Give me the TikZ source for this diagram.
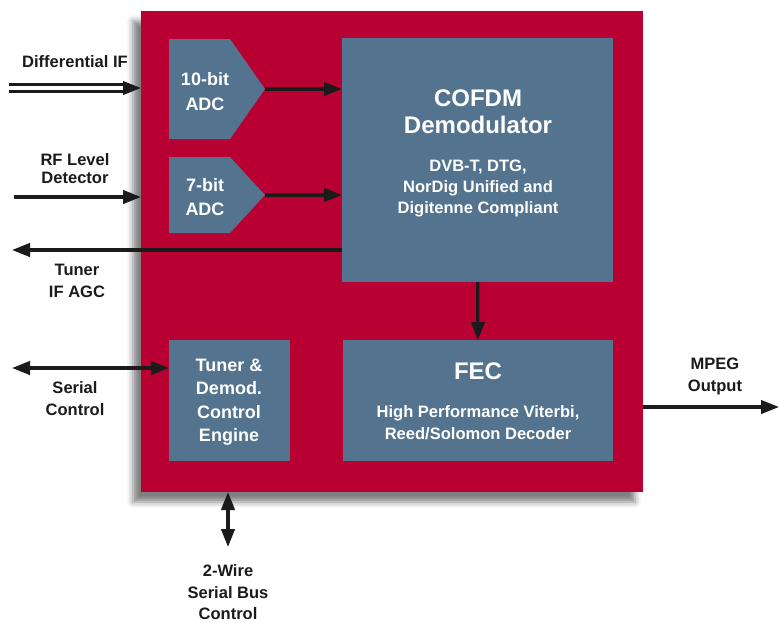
\documentclass[tikz,border=0pt]{standalone}
\usepackage{fontspec}
\setmainfont{Liberation Sans}
\usetikzlibrary{arrows.meta,shadows.blur}
\definecolor{chipred}{RGB}{184,0,50}
\definecolor{blockblue}{RGB}{84,115,143}
\definecolor{ink}{RGB}{28,26,27}
\tikzset{
 blk/.style={fill=blockblue,inner sep=0pt,outer sep=0pt},
 sig/.style={draw=ink,line width=2.4pt},
 lbl/.style={font=\bfseries\fontsize{12.4}{#1}\selectfont,align=center,text=ink,inner sep=0pt},
 wlbl/.style={font=\bfseries\fontsize{12.4}{#1}\selectfont,align=center,text=white,inner sep=0pt},
}
\begin{document}
\begin{tikzpicture}[x=0.75pt,y=-0.75pt,>={Triangle[length=13.5pt,width=10pt]}]
 \useasboundingbox (0,0) rectangle (779,622);
 \node[fill=chipred,inner sep=0pt,outer sep=0pt,minimum width=376.5pt,minimum height=360.75pt,
   blur shadow={shadow xshift=-6pt,shadow yshift=-7.5pt,shadow blur radius=4.5pt,shadow opacity=50}] (chip) at (392,251.5) {};
 \node[blk,minimum width=203.25pt,minimum height=183pt] (cofdm) at (477.5,160) {};
 \node[blk,minimum width=202.5pt,minimum height=90.75pt] (fec) at (478,400.5) {};
 \node[blk,minimum width=90.75pt,minimum height=90.75pt] (ctrl) at (229.5,400.5) {};
 \fill[blockblue] (169,39) -- (230,39) -- (265,89) coordinate (tipA) -- (230,139) -- (169,139) -- cycle;
 \fill[blockblue] (169,157) -- (230,157) -- (265,195) coordinate (tipB) -- (230,233) -- (169,233) -- cycle;
 \node[wlbl=18.75pt,font=\bfseries\fontsize{13.5}{18.75}\selectfont] (adcA) at (205,91.5) {10-bit\\ADC};
 \node[wlbl=18pt,font=\bfseries\fontsize{13.5}{18}\selectfont] (adcB) at (205,197) {7-bit\\ADC};
 \node[wlbl=20.25pt,font=\bfseries\fontsize{18}{20.25}\selectfont] (cofdmT) at (478,111.5) {COFDM\\Demodulator};
 \node[wlbl=16.1pt] (cofdmS) at (478,188.5) {DVB-T, DTG,\\NorDig Unified and\\Digitenne Compliant};
 \node[wlbl=18pt,font=\bfseries\fontsize{18}{20}\selectfont] (fecT) at (478,371) {FEC};
 \node[wlbl=16.5pt] (fecS) at (478,423) {High Performance Viterbi,\\Reed/Solomon Decoder};
 \node[wlbl=17.6pt,font=\bfseries\fontsize{13.5}{17.6}\selectfont] (ctrlT) at (229,402) {Tuner \&\\Demod.\\Control\\Engine};
 \node[lbl=16.5pt] (difT) at (75,61.5) {Differential IF};
 \node[lbl=13.9pt] (rfT) at (75,168.5) {RF Level\\Detector};
 \node[lbl=16.3pt] (agcT) at (77,281) {Tuner\\IF AGC};
 \node[lbl=16.5pt] (serT) at (75,399) {Serial\\Control};
 \node[lbl=16.5pt] (mpegT) at (715,376) {MPEG\\Output};
 \node[lbl=16.1pt] (busT) at (228,592.5) {2-Wire\\Serial Bus\\Control};
 \coordinate (difin) at (9,88); \coordinate (rfin) at (14,197); \coordinate (agc) at (12,250);
 \coordinate (serin) at (12,368); \coordinate (bus) at (228,547); \coordinate (mpeg) at (779,407);
 \draw[draw=ink,line width=2.2pt,double=white,double distance=3.2pt,->] (difin) -- (chip.west |- difin);
 \draw[sig,->] (rfin) -- (chip.west |- rfin);
 \draw[sig,->] (cofdm.west |- agc) -- (agc);
 \draw[sig,<->] (serin) -- (ctrl.west |- serin);
 \draw[sig,<->] (bus |- chip.south) -- (bus);
 \draw[sig,->] (chip.east |- mpeg) -- (mpeg);
 \draw[sig,->] (tipA) -- (cofdm.west |- tipA);
 \draw[sig,->] (tipB) -- (cofdm.west |- tipB);
 \draw[sig,->] (cofdm) -- (fec);
\end{tikzpicture}
\end{document}
